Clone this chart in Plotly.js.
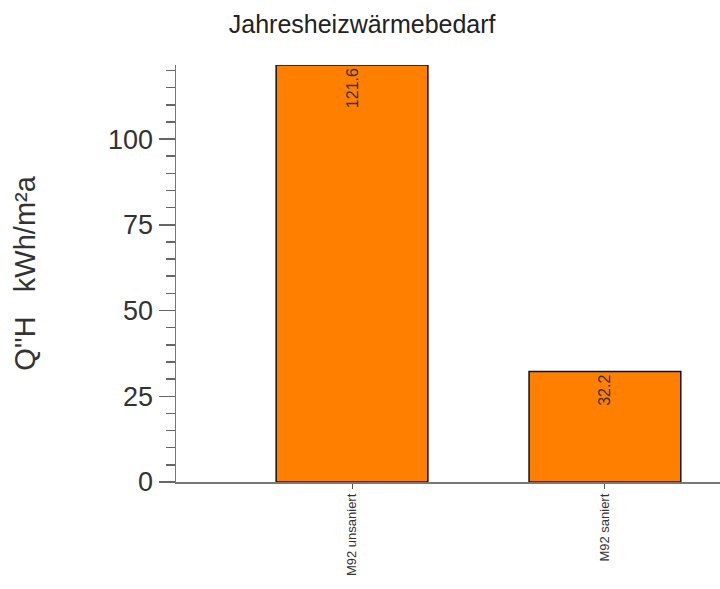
<!DOCTYPE html>
<html>
<head>
<meta charset="utf-8">
<script src="https://cdn.plot.ly/plotly-3.0.1.min.js"></script>
<style>html,body{margin:0;padding:0;background:#fff}#chart{width:720px;height:589px}</style>
</head>
<body>
<div id="chart"></div>
<script>
const categories = ["M92 unsaniert", "M92 saniert"];
const values = [121.6, 32.2];
const valueLabels = ["121.6", "32.2"];
const yTickValues = [0, 25, 50, 75, 100];
const yTickLabels = ["0", "25", "50", "75", "100"];

const trace = {
  type: "bar",
  x: categories,
  y: values,
  text: valueLabels,
  textposition: "inside",
  insidetextanchor: "end",
  textangle: -90,
  textfont: {family: "Liberation Sans, Arial, sans-serif", size: 16, color: "#333"},
  marker: {color: "#FF8000", line: {color: "#111", width: 1.5}},
  width: 0.6,
  cliponaxis: false,
  hoverinfo: "none"
};

const layout = {
  width: 720, height: 589,
  paper_bgcolor: "#fff", plot_bgcolor: "#fff",
  margin: {l: 176, r: 0, t: 65, b: 107},
  showlegend: false,
  font: {family: "Liberation Sans, Arial, sans-serif", color: "#333"},
  title: {
    text: "Jahresheizwärmebedarf",
    font: {size: 25, color: "#222"},
    x: 0.503, xanchor: "center", y: 0.958, yanchor: "middle"
  },
  xaxis: {
    type: "category",
    range: [-0.696, 1.455],
    showline: true, linecolor: "#777", linewidth: 1.5,
    ticks: "outside", ticklen: 5, tickcolor: "#555", tickwidth: 1,
    tickangle: -90,
    tickfont: {size: 13, color: "#333"},
    showgrid: false, zeroline: false, fixedrange: true
  },
  yaxis: {
    range: [0, 121.6],
    tickvals: yTickValues, ticktext: yTickLabels,
    showline: true, linecolor: "#777", linewidth: 1.5,
    ticks: "outside", ticklen: 16, tickcolor: "#666", tickwidth: 1.5,
    tickfont: {size: 27, color: "#333"},
    minor: {dtick: 5, ticks: "outside", ticklen: 9, tickcolor: "#666", tickwidth: 1.5, showgrid: false},
    showgrid: false, zeroline: false, fixedrange: true,
    title: {text: "Q''H   kWh/m²a", font: {size: 29, color: "#333"}, standoff: 64}
  }
};

Plotly.newPlot("chart", [trace], layout, {staticPlot: true, displayModeBar: false});
</script>
</body>
</html>
